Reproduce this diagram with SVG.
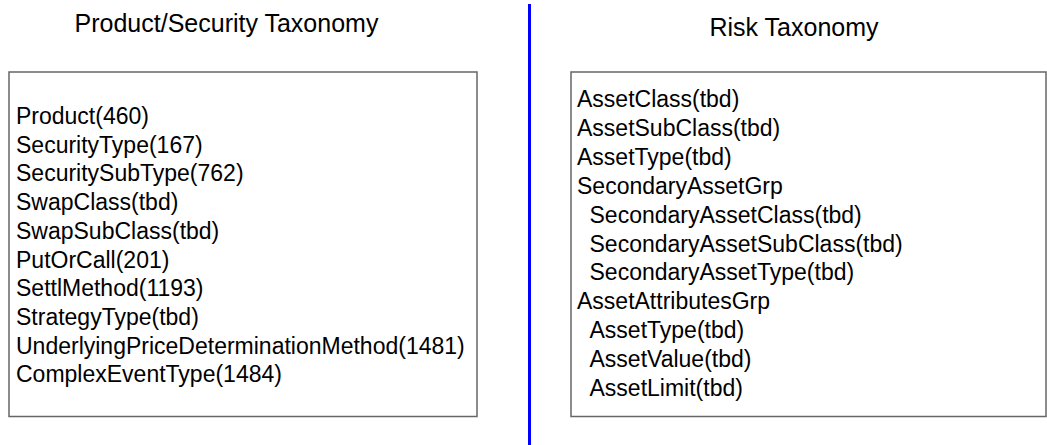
<svg xmlns="http://www.w3.org/2000/svg" width="1047" height="445" viewBox="0 0 1047 445">
<style>
.title{font-family:"Liberation Sans",Arial,sans-serif;font-size:25px;fill:#000}
.item{font-family:"Liberation Sans",Arial,sans-serif;font-size:23px;fill:#000}
.box{fill:#fff;stroke:#666;stroke-width:1.5}
</style>
<rect width="1047" height="445" fill="#fff"/>
<g id="divider">
<line x1="529.5" y1="4" x2="529.5" y2="445" stroke="#0000ff" stroke-width="3"/>
</g>
<g id="product-taxonomy">
<text class="title" x="226.5" y="32.3" text-anchor="middle">Product/Security Taxonomy</text>
<rect class="box" x="9" y="72" width="468" height="344.5"/>
<text class="item" x="16" y="124">Product(460)</text>
<text class="item" x="16" y="152.7">SecurityType(167)</text>
<text class="item" x="16" y="181.4">SecuritySubType(762)</text>
<text class="item" x="16" y="210.1">SwapClass(tbd)</text>
<text class="item" x="16" y="238.8">SwapSubClass(tbd)</text>
<text class="item" x="16" y="267.5">PutOrCall(201)</text>
<text class="item" x="16" y="296.2">SettlMethod(1193)</text>
<text class="item" x="16" y="324.9">StrategyType(tbd)</text>
<text class="item" x="16" y="353.6">UnderlyingPriceDeterminationMethod(1481)</text>
<text class="item" x="16" y="382.3">ComplexEventType(1484)</text>
</g>
<g id="risk-taxonomy">
<text class="title" x="794" y="35.7" text-anchor="middle">Risk Taxonomy</text>
<rect class="box" x="571" y="72" width="475" height="344.5"/>
<text class="item" x="577" y="107.3">AssetClass(tbd)</text>
<text class="item" x="577" y="136.1">AssetSubClass(tbd)</text>
<text class="item" x="577" y="165">AssetType(tbd)</text>
<text class="item" x="577" y="193.8">SecondaryAssetGrp</text>
<text class="item" x="589.5" y="222.7">SecondaryAssetClass(tbd)</text>
<text class="item" x="589.5" y="251.5">SecondaryAssetSubClass(tbd)</text>
<text class="item" x="589.5" y="280.3">SecondaryAssetType(tbd)</text>
<text class="item" x="577" y="309.2">AssetAttributesGrp</text>
<text class="item" x="589.5" y="338">AssetType(tbd)</text>
<text class="item" x="589.5" y="366.9">AssetValue(tbd)</text>
<text class="item" x="589.5" y="395.7">AssetLimit(tbd)</text>
</g>
</svg>
